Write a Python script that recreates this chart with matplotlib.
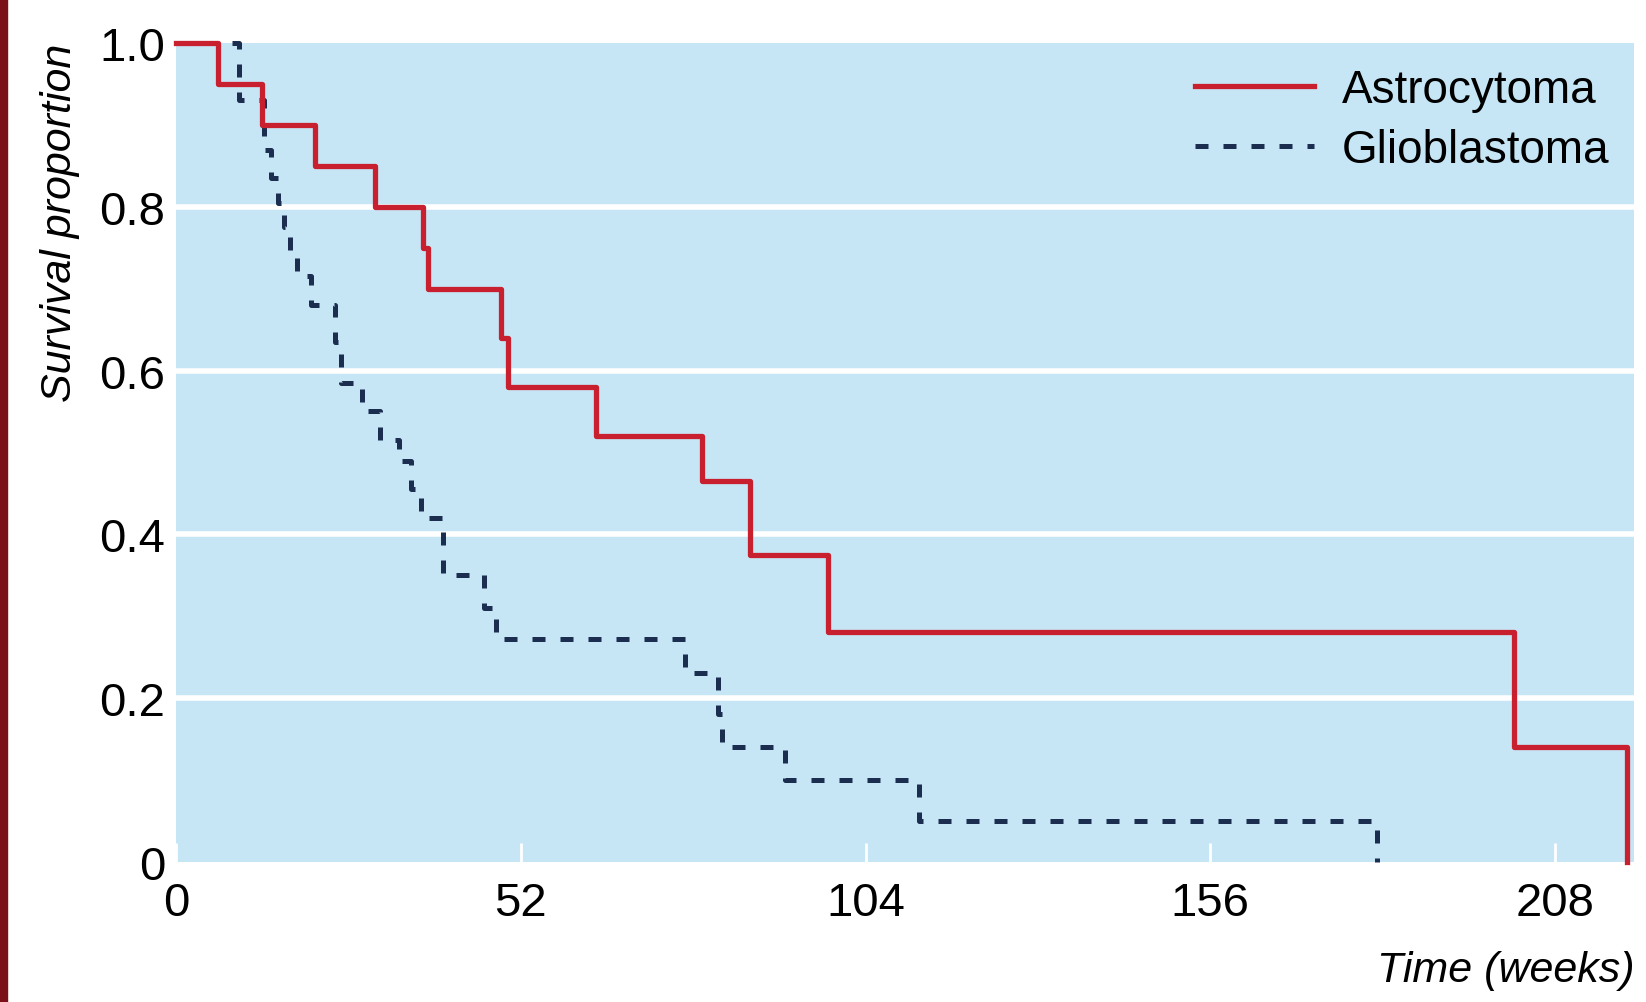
import matplotlib
matplotlib.use('Agg')
import matplotlib.pyplot as plt
from matplotlib.patches import Rectangle

# Kaplan-Meier steps (week of drop, survival after drop)
astro_weeks = [0, 6.3, 13.0, 21.0, 30.0, 37.3, 38.0, 49.0, 50.0, 63.4, 79.3, 86.6, 98.4, 201.8, 218.8]
astro_surv = [1.0, 0.95, 0.90, 0.85, 0.80, 0.75, 0.70, 0.64, 0.58, 0.52, 0.465, 0.375, 0.28, 0.14, 0.0]

glio_weeks = [0, 9.5, 13.2, 14.3, 15.3, 16.3, 17.2, 18.3, 20.3, 24.0, 24.8, 28.0, 30.8, 33.6,
              35.5, 37.0, 40.3, 46.5, 48.2, 76.7, 81.7, 82.4, 91.8, 112.0, 181.2]
glio_surv = [1.0, 0.93, 0.87, 0.835, 0.805, 0.775, 0.745, 0.715, 0.68, 0.635, 0.585, 0.55, 0.515, 0.49,
             0.455, 0.42, 0.35, 0.31, 0.272, 0.23, 0.18, 0.14, 0.10, 0.05, 0.0]

xticks = [0, 52, 104, 156, 208]
yticks = [0, 0.2, 0.4, 0.6, 0.8, 1.0]
ytick_labels = ['0', '0.2', '0.4', '0.6', '0.8', '1.0']

plt.rcParams['font.family'] = ['Liberation Sans', 'DejaVu Sans']

fig = plt.figure(figsize=(16.46, 10.03), dpi=100)
ax = fig.add_axes([0.107, 0.14, 0.886, 0.816])
ax.set_facecolor('#c6e6f6')

# dark strip on the left edge of the page
fig.patches.append(Rectangle((0, 0), 0.004, 1, transform=fig.transFigure,
                             color='#7a1018', zorder=0))

for y in yticks[1:-1]:
    ax.axhline(y, color='white', lw=4, zorder=1)

ax.step(astro_weeks, astro_surv, where='post', color='#c8202f', lw=3.8,
        label='Astrocytoma', zorder=3, clip_on=False)
ax.step(glio_weeks, glio_surv, where='post', color='#1c2e4f', lw=3.6,
        dashes=(2.6, 3.0), label='Glioblastoma', zorder=2, clip_on=False)

ax.set_xlim(0, 220)
ax.set_ylim(0, 1.0)
for s in ax.spines.values():
    s.set_visible(False)

ax.set_xticks(xticks)
ax.set_xticklabels([str(t) for t in xticks])
ax.set_yticks(yticks)
ax.set_yticklabels(ytick_labels)
ax.tick_params(axis='x', direction='in', length=14, width=2, color='white',
               labelsize=34, pad=14)
ax.tick_params(axis='y', length=0, labelsize=34, pad=8)

ax.set_ylabel('Survival proportion', fontsize=31, style='italic', loc='top', labelpad=14)
ax.set_xlabel('Time (weeks)', fontsize=31, style='italic', loc='right', labelpad=18)

leg = ax.legend(loc='upper right', frameon=False, fontsize=33, handlelength=2.6,
                handletextpad=0.6, labelspacing=0.35, borderaxespad=0.15,
                bbox_to_anchor=(1.0, 1.0))

fig.savefig('out.png', dpi=100, facecolor='white')
